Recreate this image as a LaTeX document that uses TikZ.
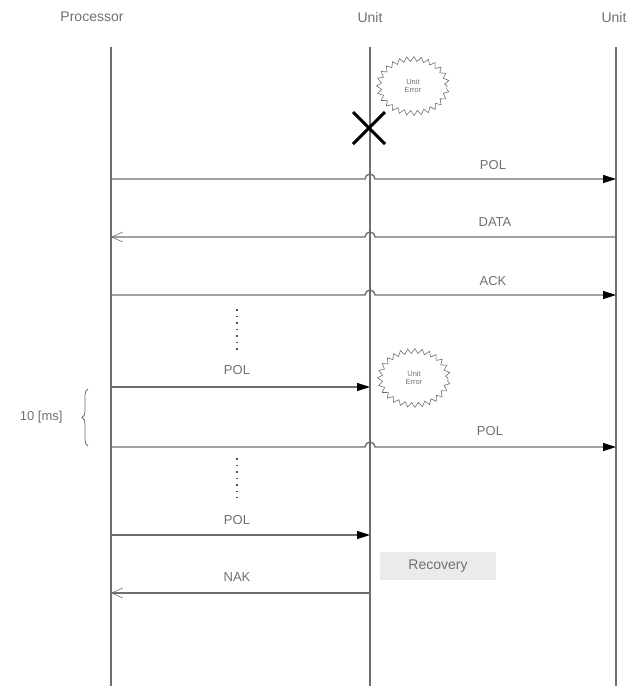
\documentclass[tikz,border=0pt]{standalone}
\usepackage{fontspec}
\setmainfont{Liberation Sans}
\usetikzlibrary{arrows.meta,decorations.pathmorphing,decorations.pathreplacing,shapes.geometric}
\definecolor{ln}{HTML}{6E6E6E}
\definecolor{tx}{HTML}{707070}
\definecolor{boxfill}{HTML}{EBEBEB}
\tikzset{
  life/.style={draw=ln, line width=1.4pt},
  msg/.style={draw=ln, line width=1.4pt},
  fillhead/.style={-{Triangle[length=13pt,width=8pt,fill=black,color=black]}},
  openhead/.style={-{Straight Barb[length=11pt,width=10pt,line width=0.6pt]}},
  hdr/.style={text=tx, font=\fontsize{14}{16}\selectfont},
  lbl/.style={text=tx, font=\fontsize{13}{15}\selectfont},
  errcloud/.style={ellipse, draw=tx, line width=0.6pt, decorate,
    decoration={zigzag, segment length=7pt, amplitude=2.4pt},
    minimum width=68pt, minimum height=54pt, inner sep=0pt,
    align=center, text=tx, font=\fontsize{7.5}{8.5}\selectfont},
  dots/.style={draw=black!70, line width=1.4pt, dash pattern=on 1.5pt off 5pt}
}
\begin{document}
\begin{tikzpicture}[x=1pt,y=-1pt]
\useasboundingbox (0,0) rectangle (632,686);
% headers
\node[hdr] (hP) at (92,17) {Processor};
\node[hdr] (hU) at (370,17) {Unit};
\node[hdr, anchor=west] (hR) at (598,17) {Unit};
% lifelines
\coordinate (pT) at (111,47); \coordinate (pB) at (111,686);
\coordinate (uT) at (370,47); \coordinate (uB) at (370,686);
\coordinate (rT) at (616,47); \coordinate (rB) at (616,686);
\draw[life] (pT) -- (pB);
\draw[life] (uT) -- (uB);
\draw[life] (rT) -- (rB);
% clouds
\node[errcloud] (c1) at (413,86) {Unit\\Error};
\node[errcloud] (c2) at (414,378) {Unit\\Error};
% X mark
\coordinate (xc) at (369,128);
\draw[black, line width=3pt] ([shift={(-16,-16)}]xc) -- ([shift={(16,16)}]xc);
\draw[black, line width=3pt] ([shift={(-16,16)}]xc) -- ([shift={(16,-16)}]xc);
% message coordinates
\coordinate (m1a) at (111,179); \coordinate (m1b) at (616,179);
\coordinate (m2a) at (616,237); \coordinate (m2b) at (111,237);
\coordinate (m3a) at (111,295); \coordinate (m3b) at (616,295);
\coordinate (m4a) at (111,387); \coordinate (m4b) at (370,387);
\coordinate (m5a) at (111,447); \coordinate (m5b) at (616,447);
\coordinate (m6a) at (111,535); \coordinate (m6b) at (370,535);
\coordinate (m7a) at (370,593); \coordinate (m7b) at (111,593);
% messages
\draw[msg, fillhead] (m1a) -- (365,179) arc[start angle=180,end angle=0,radius=5pt] -- (m1b);
\node[lbl] (l1) at (493,165) {POL};
\draw[msg, openhead] (m2a) -- (375,237) arc[start angle=0,end angle=180,radius=5pt] -- (m2b);
\node[lbl] (l2) at (495,222) {DATA};
\draw[msg, fillhead] (m3a) -- (365,295) arc[start angle=180,end angle=0,radius=5pt] -- (m3b);
\node[lbl] (l3) at (493,281) {ACK};
\draw[msg, fillhead] (m4a) -- (m4b);
\node[lbl] (l4) at (237,370) {POL};
\draw[msg, fillhead] (m5a) -- (365,447) arc[start angle=180,end angle=0,radius=5pt] -- (m5b);
\node[lbl] (l5) at (490,431) {POL};
\draw[msg, fillhead] (m6a) -- (m6b);
\node[lbl] (l6) at (237,520) {POL};
\draw[msg, openhead] (m7a) -- (m7b);
\node[lbl] (l7) at (237,577) {NAK};
% dotted gaps
\coordinate (d1a) at (237,309); \coordinate (d1b) at (237,352);
\coordinate (d2a) at (237,458); \coordinate (d2b) at (237,498);
\draw[dots] (d1a) -- (d1b);
\draw[dots] (d2a) -- (d2b);
% recovery box
\node[fill=boxfill, minimum width=116pt, minimum height=28pt, text=tx,
      font=\fontsize{14}{16}\selectfont] (rec) at (438,566) {Recovery};
% brace
\coordinate (b1) at (88,389); \coordinate (b2) at (88,446);
\draw[draw=ln, line width=0.8pt, decorate, decoration={brace, amplitude=6pt}] (b2) -- (b1);
\node[lbl, anchor=east] (ms) at (66,417) {10 [ms]};
\end{tikzpicture}
\end{document}
